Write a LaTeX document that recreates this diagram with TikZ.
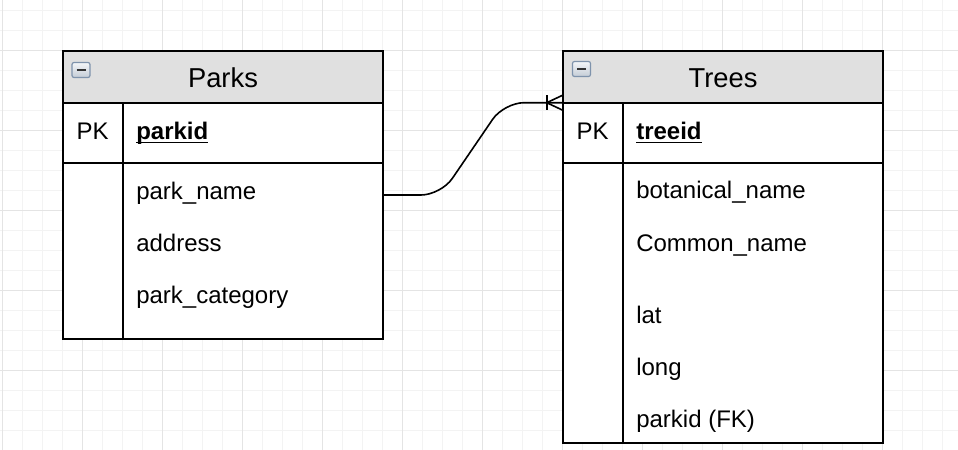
\documentclass[tikz,border=0pt]{standalone}
\usepackage{fontspec}
\setmainfont{Liberation Sans}
\usetikzlibrary{calc}
\definecolor{gridminor}{HTML}{F3F3F3}
\definecolor{gridmajor}{HTML}{E4E4E4}
\definecolor{headgray}{HTML}{E0E0E0}
\definecolor{iconedge}{HTML}{7F93AC}
\definecolor{icontop}{HTML}{F4F6F8}
\definecolor{iconbottom}{HTML}{C4CCD6}
\def\minusicon(#1,#2){\draw[line width=0.9pt, color=iconedge, top color=icontop, bottom color=iconbottom, rounded corners=1.5pt] (#1,#2) rectangle ($(#1,#2)+(18,15)$); \draw[line width=1.8pt, color=black!80] ($(#1,#2)+(4.5,7.5)$) -- ($(#1,#2)+(13.5,7.5)$);}
\def\keyfield#1{\setbox0\hbox{\bfseries #1}\rlap{\rule[-2.8pt]{\wd0}{1.4pt}}\box0}

\begin{document}
\begin{tikzpicture}[x=0.75pt, y=-0.75pt,
	field/.style={anchor=base west, inner sep=0pt, font=\fontsize{18}{20}\selectfont},
	keylbl/.style={anchor=base, inner sep=0pt, font=\fontsize{18}{20}\selectfont},
	title/.style={anchor=base, inner sep=0pt, font=\fontsize{20.5}{24}\selectfont},
	tbl/.style={line width=1.5pt, color=black},
	link/.style={line width=1.2pt, color=black}]
			%%%%% START %%%%%
			
			\useasboundingbox[fill=white] (0,0) rectangle (958,450);
			
			\foreach \k in {0,...,47} {\draw[line width=0.75pt, color=gridminor] (2.9+20*\k, 0) -- (2.9+20*\k, 450);}
			\foreach \k in {0,...,22} {\draw[line width=0.75pt, color=gridminor] (0, 10+20*\k) -- (958, 10+20*\k);}
			\foreach \k in {0,...,11} {\draw[line width=0.75pt, color=gridmajor] (2.9+80*\k, 0) -- (2.9+80*\k, 450);}
			\foreach \k in {0,...,5} {\draw[line width=0.75pt, color=gridmajor] (0, 50+80*\k) -- (958, 50+80*\k);}
			
			% Parks
			\fill[white] (62.7, 51) rectangle (383.3, 338.7);
			\fill[headgray] (62.7, 51) rectangle (383.3, 102.7);
			\draw[tbl] (62.7, 51) rectangle (383.3, 338.7);
			\draw[tbl] (62.7, 102.7) -- (383.3, 102.7);
			\draw[tbl] (62.7, 162.5) -- (383.3, 162.5);
			\draw[tbl] (122.7, 102.7) -- (122.7, 338.7);
			\minusicon(72,62.5)
			
			\node[title] (parks-title) at (223, 87.5) {Parks};
			\node[keylbl] (parks-pk) at (92.7, 139.7) {PK};
			\node[field] (parks-parkid) at (136, 139.7) {\keyfield{parkid}};
			\node[field] (parks-name) at (136, 199.3) {park\_name};
			\node[field] (parks-address) at (136, 251.5) {address};
			\node[field] (parks-category) at (136, 303.5) {park\_category};
			
			% Trees
			\fill[white] (562.7, 51) rectangle (883.3, 442.5);
			\fill[headgray] (562.7, 51) rectangle (883.3, 102.7);
			\draw[tbl] (562.7, 51) rectangle (883.3, 442.5);
			\draw[tbl] (562.7, 102.7) -- (883.3, 102.7);
			\draw[tbl] (562.7, 162.5) -- (883.3, 162.5);
			\draw[tbl] (622.7, 102.7) -- (622.7, 442.5);
			\minusicon(572.5,61.5)
			
			\node[title] (trees-title) at (723, 87.5) {Trees};
			\node[keylbl] (trees-pk) at (592.7, 139.7) {PK};
			\node[field] (trees-treeid) at (636, 139.7) {\keyfield{treeid}};
			\node[field] (trees-botanical) at (636, 198.5) {botanical\_name};
			\node[field] (trees-common) at (636, 251.5) {Common\_name};
			\node[field] (trees-lat) at (636, 323.5) {lat};
			\node[field] (trees-long) at (636, 375.8) {long};
			\node[field] (trees-fk) at (636, 427.8) {parkid (FK)};
			
			% link
			\coordinate (parks-link) at (383.3, 195);
			\coordinate (trees-link) at (562.7, 102.7);
			\draw[link, rounded corners=15pt] (parks-link) -- (441, 195) -- (504, 102.7) -- (trees-link);
			\draw[link] ($(trees-link)+(-16,-7.5)$) -- ($(trees-link)+(-16,7.5)$);
			\draw[link] ($(trees-link)+(0,-7.5)$) -- ($(trees-link)+(-16,0)$) -- ($(trees-link)+(0,7.5)$);
			
			%%%%% END %%%%%
\end{tikzpicture}
\end{document}
